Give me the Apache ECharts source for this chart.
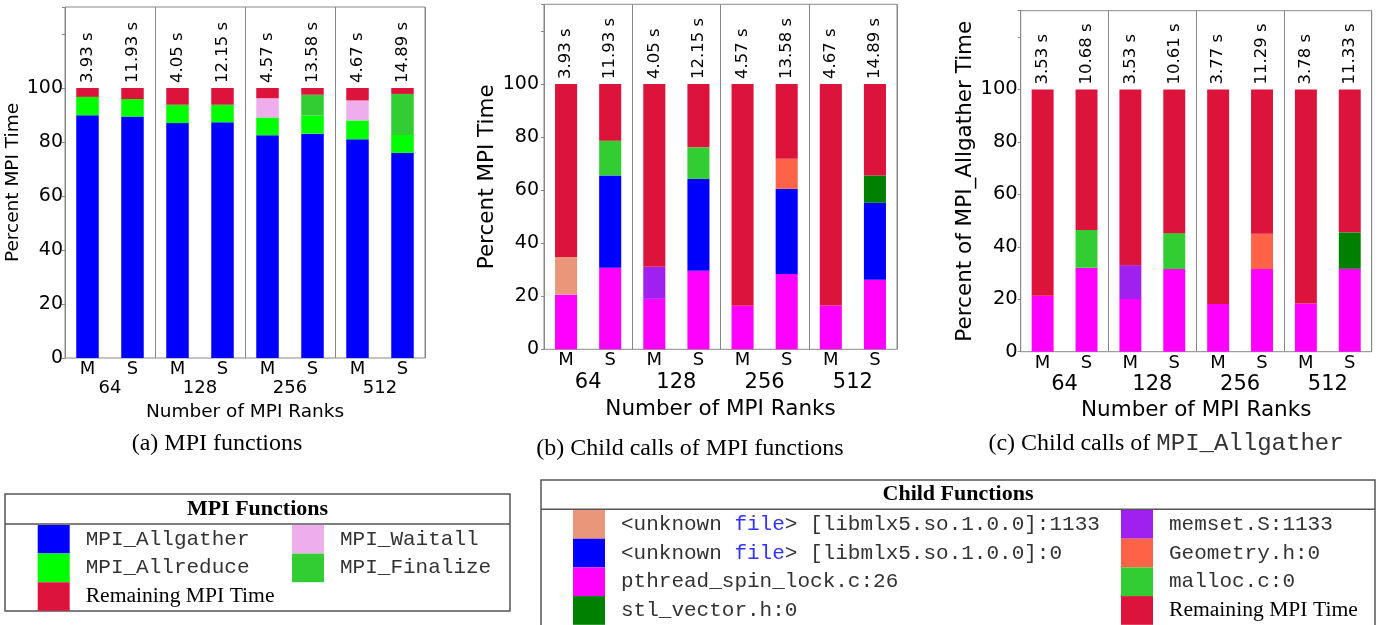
<!DOCTYPE html>
<html><head><meta charset="utf-8">
<script src="https://cdn.jsdelivr.net/npm/echarts@6/dist/echarts.min.js"></script>
<style>html,body{margin:0;padding:0;background:#fff}#c{width:1380px;height:625px}</style>
</head><body><div id="c"></div>
<script>
// ---------- data ----------
const barCats = ['M','S','M','S','M','S','M','S'];
const groupCats = ['64','128','256','512'];
const yTicks = [0,20,40,60,80,100];
const timesMPI = ['3.93 s','11.93 s','4.05 s','12.15 s','4.57 s','13.58 s','4.67 s','14.89 s'];
const timesAllgather = ['3.53 s','10.68 s','3.53 s','10.61 s','3.77 s','11.29 s','3.78 s','11.33 s'];

// panel (a) MPI functions (segment percentages)
const aAllgather = [89.9, 89.4, 87.0, 87.3, 82.5, 83.1, 81.0, 76.0];
const aAllreduce = [6.8, 6.5, 6.8, 6.5, 6.6, 6.7, 7.0, 6.6];
const aWaitall   = [0, 0, 0, 0, 7.1, 0, 7.4, 0];
const aFinalize  = [0, 0, 0, 0, 0, 7.7, 0, 15.2];
const aRemaining = [3.3, 4.1, 6.2, 6.2, 3.8, 2.5, 4.6, 2.2];

// panel (b) child calls of MPI functions
const bPthread   = [20.6, 30.7, 19.0, 29.6, 16.4, 28.4, 16.5, 26.2];
const bUnk1133   = [14.2, 0, 0, 0, 0, 0, 0, 0];
const bMemset    = [0, 0, 12.1, 0, 0, 0, 0, 0];
const bUnk0      = [0, 34.8, 0, 34.6, 0, 32.1, 0, 29.0];
const bMalloc    = [0, 13.1, 0, 11.9, 0, 0, 0, 0];
const bGeometry  = [0, 0, 0, 0, 0, 11.3, 0, 0];
const bStl       = [0, 0, 0, 0, 0, 0, 0, 10.3];
const bRemaining = [65.2, 21.4, 68.9, 23.9, 83.6, 28.2, 83.5, 34.5];

// panel (c) child calls of MPI_Allgather
const cPthread   = [21.3, 32.0, 20.1, 31.5, 18.2, 31.5, 18.4, 31.6];
const cMemset    = [0, 0, 12.9, 0, 0, 0, 0, 0];
const cMalloc    = [0, 14.4, 0, 13.7, 0, 0, 0, 0];
const cGeometry  = [0, 0, 0, 0, 0, 13.5, 0, 0];
const cStl       = [0, 0, 0, 0, 0, 0, 0, 13.9];
const cRemaining = [78.7, 53.6, 67.0, 54.8, 81.8, 55.0, 81.6, 54.5];

// names
const N_ALLGATHER = 'MPI_Allgather', N_ALLREDUCE = 'MPI_Allreduce', N_WAITALL = 'MPI_Waitall',
      N_FINALIZE = 'MPI_Finalize', N_REM = 'Remaining MPI Time';
const N_UNK1133 = '<unknown file> [libmlx5.so.1.0.0]:1133', N_UNK0 = '<unknown file> [libmlx5.so.1.0.0]:0',
      N_PTHREAD = 'pthread_spin_lock.c:26', N_STL = 'stl_vector.h:0', N_MEMSET = 'memset.S:1133',
      N_GEOM = 'Geometry.h:0', N_MALLOC = 'malloc.c:0';

const colors = {};
colors[N_ALLGATHER] = '#0000ff'; colors[N_ALLREDUCE] = '#00ff00'; colors[N_WAITALL] = '#eeaeee';
colors[N_FINALIZE] = '#32cd32'; colors[N_REM] = '#dc143c';
colors[N_UNK1133] = '#e9967a'; colors[N_UNK0] = '#0000ff'; colors[N_PTHREAD] = '#ff00ff';
colors[N_STL] = '#008000'; colors[N_MEMSET] = '#a020f0'; colors[N_GEOM] = '#ff6347'; colors[N_MALLOC] = '#32cd32';

// ---------- layout ----------
const FONT = 'DejaVu Sans';
const panels = [
  {left:65, top:7, width:360, height:351, tickFs:19, msFs:18, grpFs:18, titleFs:18.5,
   yName:'Percent MPI Time', yGap:37, yMargin:2, msMargin:2.5, grpOffset:18, grpMargin:3.5, xGap:13, times:timesMPI},
  {left:544, top:4.3, width:353, height:345, tickFs:19, msFs:18, grpFs:21, titleFs:21.5,
   yName:'Percent MPI Time', yGap:39, yMargin:5, msMargin:2.5, grpOffset:19, grpMargin:4, xGap:26, times:timesMPI},
  {left:1020.7, top:10.7, width:351, height:341, tickFs:19.5, msFs:18, grpFs:21, titleFs:21.5,
   yName:'Percent of MPI_Allgather Time', yGap:39, yMargin:3, msMargin:3, grpOffset:18, grpMargin:4, xGap:22, times:timesAllgather}
];
const panelSeries = [
  [[N_ALLGATHER,aAllgather],[N_ALLREDUCE,aAllreduce],[N_WAITALL,aWaitall],[N_FINALIZE,aFinalize],[N_REM,aRemaining]],
  [[N_PTHREAD,bPthread],[N_UNK1133,bUnk1133],[N_MEMSET,bMemset],[N_UNK0,bUnk0],[N_MALLOC,bMalloc],[N_GEOM,bGeometry],[N_STL,bStl],[N_REM,bRemaining]],
  [[N_PTHREAD,cPthread],[N_MEMSET,cMemset],[N_MALLOC,cMalloc],[N_GEOM,cGeometry],[N_STL,cStl],[N_REM,cRemaining]]
];

const grid = [], xAxis = [], yAxis = [], series = [];
panels.forEach((p, i) => {
  grid.push({left:p.left, top:p.top, width:p.width, height:p.height, show:true,
    borderColor:'#888', borderWidth:1, backgroundColor:'transparent', containLabel:false});
  xAxis.push({gridIndex:i, type:'category', data:barCats, position:'bottom',
    axisLine:{show:false}, axisTick:{show:false}, splitLine:{show:false},
    axisLabel:{interval:0, margin:p.msMargin, fontSize:p.msFs, color:'#000', fontFamily:FONT}});
  xAxis.push({gridIndex:i, type:'category', data:groupCats, position:'bottom', offset:p.grpOffset,
    axisLine:{show:false}, axisTick:{show:false},
    splitLine:{show:true, interval:0, lineStyle:{color:'#888', width:1}},
    axisLabel:{interval:0, margin:p.grpMargin, fontSize:p.grpFs, color:'#000', fontFamily:FONT},
    name:'Number of MPI Ranks', nameLocation:'middle', nameGap:p.xGap,
    nameTextStyle:{fontSize:p.titleFs, color:'#000', fontFamily:FONT}});
  yAxis.push({gridIndex:i, type:'value', min:0, max:130, interval:20,
    axisLine:{show:false}, axisTick:{show:true, length:3, lineStyle:{color:'#888'}},
    splitLine:{show:false},
    axisLabel:{margin:p.yMargin, fontSize:p.tickFs, color:'#000', fontFamily:FONT,
      formatter: v => yTicks.includes(v) ? String(v) : ''},
    name:p.yName, nameLocation:'middle', nameGap:p.yGap,
    nameTextStyle:{fontSize:p.titleFs, color:'#000', fontFamily:FONT}});
  panelSeries[i].forEach(([name, data]) => {
    const s = {type:'bar', name, data, xAxisIndex:i*2, yAxisIndex:i, stack:'p'+i,
      barWidth:'50%', itemStyle:{color:colors[name]}, emphasis:{disabled:true}, animation:false};
    if (name === N_REM) {
      s.label = {show:true, position:'top', rotate:90, align:'left', verticalAlign:'middle', distance:5,
        fontSize:16.5, color:'#000', fontFamily:FONT, formatter: q => p.times[q.dataIndex]};
    }
    series.push(s);
  });
});

// ---------- legends ----------
function legendFmt(name) {
  if (name.indexOf('<unknown file>') === 0) {
    return '{m|<unknown }{f|file}{m|' + name.slice('<unknown file'.length) + '}';
  }
  if (name === N_REM) return '{s|' + name + '}';
  return '{m|' + name + '}';
}
const legendText = {padding:[0,0,0,11], rich:{
  m:{fontFamily:'Liberation Mono', fontSize:21, color:'#333'},
  f:{fontFamily:'Liberation Mono', fontSize:21, color:'#3333ff'},
  s:{fontFamily:'Liberation Serif', fontSize:21.6, color:'#000'}}};
function mkLegend(left, top, data, h) {
  return {left, top, orient:'vertical', data, itemWidth:32, itemHeight:h, itemGap:0, padding:0,
    icon:'rect', selectedMode:false, formatter:legendFmt, textStyle:legendText};
}
const legend = [
  mkLegend(37.7, 525, [N_ALLGATHER, N_ALLREDUCE, N_REM], 28.6),
  mkLegend(292, 525, [N_WAITALL, N_FINALIZE], 28.6),
  mkLegend(573, 510, [N_UNK1133, N_UNK0, N_PTHREAD, N_STL], 28.7),
  mkLegend(1121, 510, [N_MEMSET, N_GEOM, N_MALLOC, N_REM], 28.7)
];

const boxStroke = {fill:'none', stroke:'#555', lineWidth:1.5};
const graphic = [
  {type:'rect', shape:{x:5, y:494, width:505, height:117}, style:boxStroke, silent:true},
  {type:'line', shape:{x1:5, y1:524, x2:510, y2:524}, style:{stroke:'#555', lineWidth:1.5}, silent:true},
  {type:'text', x:257.5, y:509.5, style:{text:'MPI Functions', font:'bold 22px "Liberation Serif"', fill:'#000', textAlign:'center', textVerticalAlign:'middle'}},
  {type:'rect', shape:{x:541, y:480, width:834, height:170}, style:boxStroke, silent:true},
  {type:'line', shape:{x1:541, y1:509.3, x2:1375, y2:509.3}, style:{stroke:'#555', lineWidth:1.5}, silent:true},
  {type:'text', x:958, y:494.5, style:{text:'Child Functions', font:'bold 22px "Liberation Serif"', fill:'#000', textAlign:'center', textVerticalAlign:'middle'}},
  {type:'text', x:217, y:443.5, style:{text:'(a) MPI functions', font:'24px "Liberation Serif"', fill:'#000', textAlign:'center', textVerticalAlign:'middle'}},
  {type:'text', x:690, y:449, style:{text:'(b) Child calls of MPI functions', font:'24px "Liberation Serif"', fill:'#000', textAlign:'center', textVerticalAlign:'middle'}},
  {type:'text', x:1166, y:443.5, style:{text:'{s|(c) Child calls of }{m|MPI_Allgather}', textAlign:'center', textVerticalAlign:'middle',
    rich:{s:{fontFamily:'Liberation Serif', fontSize:24, fill:'#000'}, m:{fontFamily:'Liberation Mono', fontSize:24, fill:'#333'}}}}
];

const chart = echarts.init(document.getElementById('c'), null, {renderer:'canvas'});
chart.setOption({animation:false, grid, xAxis, yAxis, series, legend, graphic});
</script></body></html>
